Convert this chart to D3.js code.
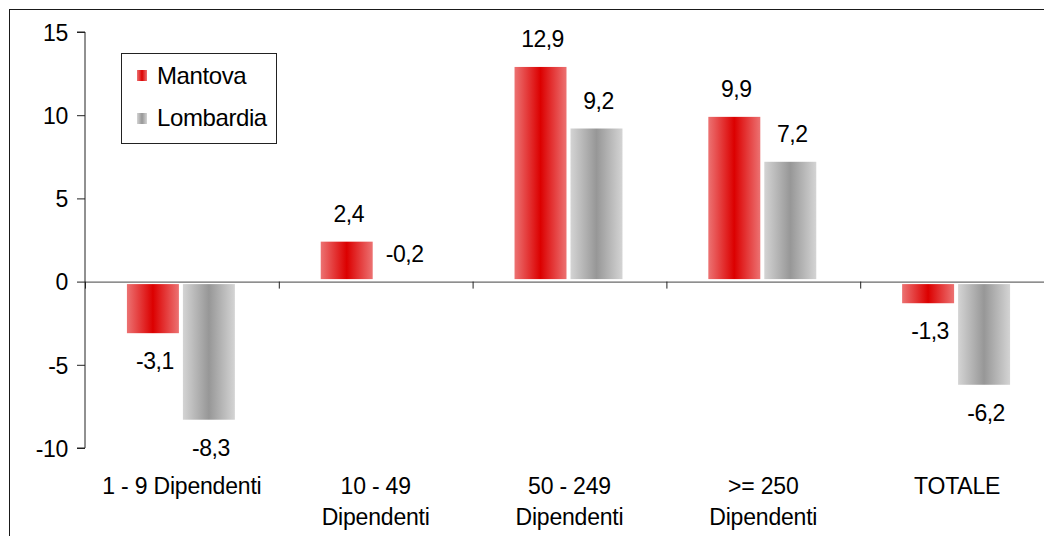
<!DOCTYPE html>
<html><head><meta charset="utf-8">
<script src="https://cdn.jsdelivr.net/npm/d3@7"></script>
<style>
html,body{margin:0;padding:0;background:#fff;}
svg text{font-family:"Liberation Sans",Arial,sans-serif;fill:#000;}
</style></head>
<body><svg id="c" width="1044" height="536"></svg>
<script>
const categories = [["1 - 9 Dipendenti"], ["10 - 49", "Dipendenti"], ["50 - 249", "Dipendenti"], [">= 250", "Dipendenti"], ["TOTALE"]];
const catKeys = ["c1","c2","c3","c4","c5"];
const seriesNames = ["Mantova", "Lombardia"];
const mantova = [-3.1, 2.4, 12.9, 9.9, -1.3];
const lombardia = [-8.3, -0.2, 9.2, 7.2, -6.2];
const yTicks = [-10, -5, 0, 5, 10, 15];
const valueLabels = [["-3,1","2,4","12,9","9,9","-1,3"],["-8,3","-0,2","9,2","7,2","-6,2"]];

const svg = d3.select("#c");
const defs = svg.append("defs");
function grad(id, edge, mid){
  const g = defs.append("linearGradient").attr("id", id).attr("x1","0%").attr("x2","100%").attr("y1","0%").attr("y2","0%");
  g.append("stop").attr("offset","0%").attr("stop-color", edge);
  g.append("stop").attr("offset","50%").attr("stop-color", mid);
  g.append("stop").attr("offset","100%").attr("stop-color", edge);
}
grad("gRed", "#ec7272", "#dc0000");
grad("gGray", "#d4d4d4", "#979797");
const fills = ["url(#gRed)", "url(#gGray)"];

// outer frame
svg.append("rect").attr("x", 9.5).attr("y", 9.5).attr("width", 1100).attr("height", 600)
  .attr("fill", "none").attr("stroke", "#1a1a1a").attr("stroke-width", 1);

const y = d3.scaleLinear().domain([-10, 15]).range([448, 32]);
const x0 = d3.scaleBand().domain(catKeys).range([84, 1053]).paddingInner(0.443).paddingOuter(0.2215);
const x1 = d3.scaleBand().domain(seriesNames).range([0, x0.bandwidth()]).paddingInner(0.0714);
const xCat = d3.scaleBand().domain(catKeys).range([85, 1054]);
const gap = 2.5; // bars start slightly off the zero line

const series = [mantova, lombardia];
series.forEach((vals, si) => {
  svg.append("g").selectAll("rect").data(vals).join("rect")
    .attr("x", (d, i) => x0(catKeys[i]) + x1(seriesNames[si]))
    .attr("width", x1.bandwidth())
    .attr("y", d => d >= 0 ? y(d) : y(0) + gap)
    .attr("height", d => { const h = Math.abs(y(d) - y(0)) - gap; return h < 2 ? 0 : h; })
    .attr("fill", fills[si]);
  svg.append("g").selectAll("text").data(vals).join("text")
    .attr("x", (d, i) => x0(catKeys[i]) + x1(seriesNames[si]) + x1.bandwidth() / 2 + 2)
    .attr("y", d => {
      const len = Math.abs(y(d) - y(0));
      if (d >= 0 || len < 10) return Math.min(y(d), y(0)) - 20;
      return y(d) + 36;
    })
    .attr("text-anchor", "middle")
    .style("font-size", "23px").style("letter-spacing", "-0.5px")
    .text((d, i) => valueLabels[si][i]);
});

// y axis
const yAxis = svg.append("g").attr("transform", "translate(85,0)")
  .call(d3.axisLeft(y).tickValues(yTicks).tickSize(8).tickPadding(9).tickFormat(d => String(d)));
yAxis.selectAll("path,line").attr("stroke", "#222");
yAxis.selectAll("text").style("font-size", "23px").style("letter-spacing", "-0.3px")
  .attr("font-family", null).attr("dy", "0.36em");
yAxis.select(".domain").attr("d", `M-8,${y(15)}H0V${y(-10)}H-8`);

// zero line with category ticks
const xAxis = svg.append("g").attr("transform", `translate(0,${y(0)})`)
  .call(d3.axisBottom(xCat).tickSize(0).tickFormat(""));
xAxis.select(".domain").attr("stroke", "#444");
xAxis.selectAll(".tick").remove();
const bounds = xCat.domain().map(k => xCat(k)).concat([xCat.range()[1]]);
svg.append("g").selectAll("line").data(bounds).join("line")
  .attr("x1", d => d + 0.5).attr("x2", d => d + 0.5)
  .attr("y1", y(0)).attr("y2", y(0) + 7).attr("stroke", "#222");

// category labels
categories.forEach((lines, i) => {
  const cx = xCat(catKeys[i]) + xCat.bandwidth() / 2;
  const t = svg.append("text").attr("x", cx).attr("y", 494).attr("text-anchor", "middle")
    .style("font-size", "23px").style("letter-spacing", "-0.2px");
  lines.forEach((ln, j) => t.append("tspan").attr("x", cx).attr("dy", j === 0 ? 0 : 31).text(ln));
});

// legend
const lg = svg.append("g");
lg.append("rect").attr("x", 121.5).attr("y", 53.5).attr("width", 155).attr("height", 90)
  .attr("fill", "#fff").attr("stroke", "#222");
seriesNames.forEach((s, i) => {
  lg.append("rect").attr("x", 137).attr("y", 70 + i * 43).attr("width", 10).attr("height", 11).attr("fill", fills[i]);
  lg.append("text").attr("x", 157).attr("y", 84 + i * 42).style("font-size", "24px").style("letter-spacing", "-0.4px").text(s);
});
</script></body></html>
